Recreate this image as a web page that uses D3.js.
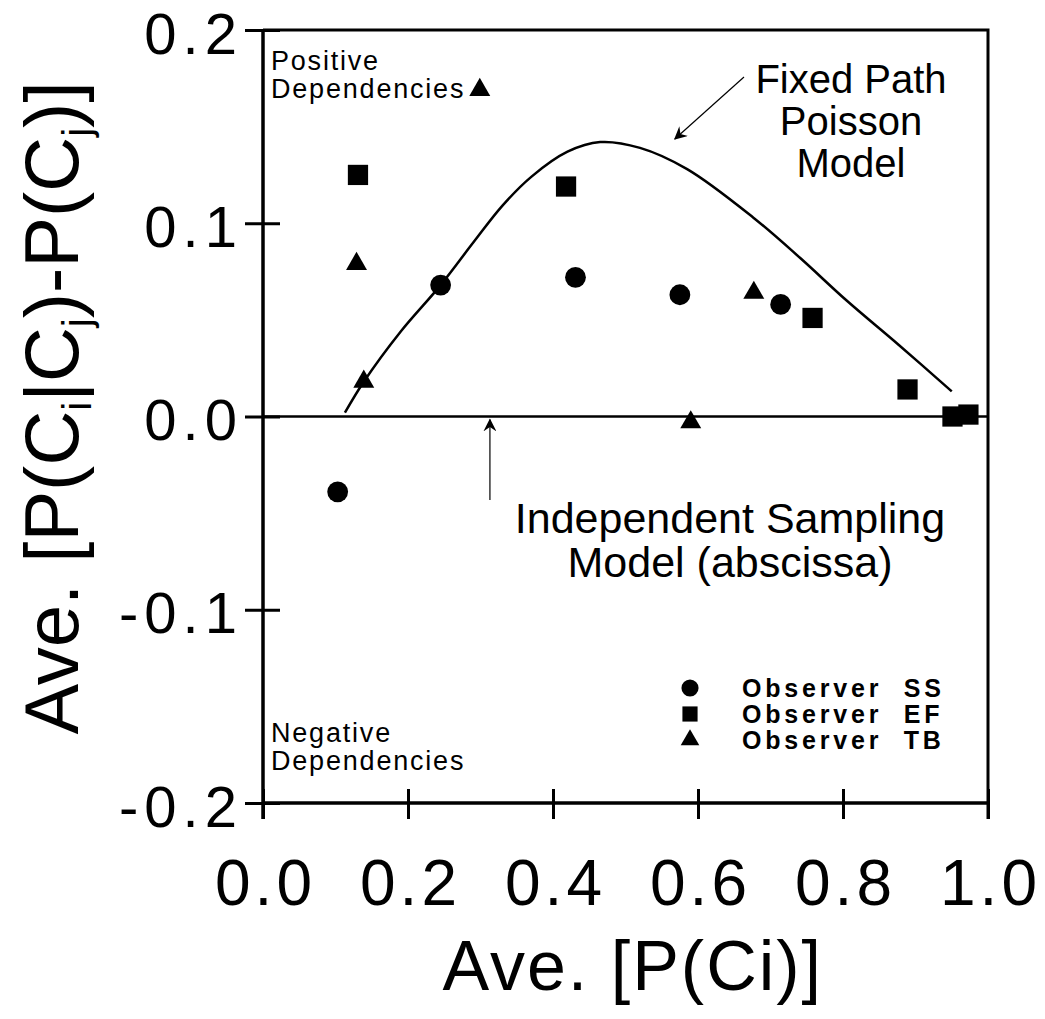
<!DOCTYPE html>
<html>
<head>
<meta charset="utf-8">
<script src="https://cdn.jsdelivr.net/npm/d3@7"></script>
<style>
  html, body { margin: 0; padding: 0; background: #fff; }
  svg { display: block; font-family: "Liberation Sans", Arial, Helvetica, sans-serif; }
</style>
</head>
<body>
<svg id="chart" width="1045" height="1019"></svg>
<script>
// Observed points: x = Ave. P(Ci), y = Ave. [P(Ci|Cj) - P(Cj)]
const ssX = [0.103, 0.245, 0.431, 0.575, 0.714];
const ssY = [-0.039, 0.068, 0.072, 0.063, 0.058];

const efX = [0.131, 0.418, 0.758, 0.889, 0.951, 0.973];
const efY = [0.125, 0.119, 0.051, 0.014, 0.000, 0.001];

const tbX = [0.129, 0.139, 0.299, 0.590, 0.677];
const tbY = [0.079, 0.018, 0.169, -0.003, 0.064];

// Fixed path Poisson model prediction
const modelX = [0.113, 0.139, 0.19, 0.245, 0.29, 0.33, 0.37, 0.42, 0.465, 0.52, 0.585, 0.676, 0.741, 0.805, 0.877, 0.95];
const modelY = [0.002, 0.018, 0.044, 0.068, 0.090, 0.109, 0.124, 0.137, 0.142, 0.139, 0.128, 0.103, 0.082, 0.060, 0.037, 0.013];

const xTicks = [0.0, 0.2, 0.4, 0.6, 0.8, 1.0];
const yTicks = [-0.2, -0.1, 0.0, 0.1, 0.2];

const legendLabels = ["Observer  SS", "Observer  EF", "Observer  TB"];

const svg = d3.select("#chart");
const x = d3.scaleLinear().domain([0, 1]).range([263, 988]);
const y = d3.scaleLinear().domain([-0.2, 0.2]).range([803, 30]);

const ink = "#000";
const fmt = d => d3.format(".1f")(d).replace("−", "-");

// Y axis
const yAxis = svg.append("g")
  .attr("transform", `translate(${x(0)},0)`)
  .call(d3.axisLeft(y).tickValues(yTicks).tickSize(0).tickFormat(fmt));
yAxis.select(".domain").remove();
yAxis.selectAll(".tick line").remove();
yAxis.selectAll(".tick text")
  .attr("x", -20).attr("dy", "0.4em")
  .attr("font-size", 58).attr("letter-spacing", 6).attr("fill", ink)
  .attr("font-family", "Liberation Sans, Arial, sans-serif");
yAxis.selectAll(".tick").append("line")
  .attr("x1", -18).attr("x2", 17).attr("stroke", ink).attr("stroke-width", 3);

// X axis
const xAxis = svg.append("g")
  .attr("transform", `translate(0,${y(-0.2)})`)
  .call(d3.axisBottom(x).tickValues(xTicks).tickSize(0).tickFormat(fmt));
xAxis.select(".domain").remove();
xAxis.selectAll(".tick line").remove();
xAxis.selectAll(".tick text")
  .attr("y", 102).attr("dy", 0).attr("dx", 2)
  .attr("font-size", 64).attr("letter-spacing", 4).attr("fill", ink)
  .attr("font-family", "Liberation Sans, Arial, sans-serif");
xAxis.selectAll(".tick").append("line")
  .attr("y1", -14).attr("y2", 16).attr("stroke", ink).attr("stroke-width", 3);

// Frame
svg.append("path")
  .attr("d", `M${x(0)},${y(0.2)} L${x(1)},${y(0.2)} L${x(1)},${y(-0.2) + 16}`)
  .attr("fill", "none").attr("stroke", ink).attr("stroke-width", 3);
svg.append("line")
  .attr("x1", x(0)).attr("x2", x(0)).attr("y1", y(0.2)).attr("y2", y(-0.2) + 16)
  .attr("stroke", ink).attr("stroke-width", 3.5);
svg.append("line")
  .attr("x1", x(0)).attr("x2", x(1)).attr("y1", y(-0.2)).attr("y2", y(-0.2))
  .attr("stroke", ink).attr("stroke-width", 3.5);

// Independent sampling model: the abscissa
svg.append("line")
  .attr("x1", x(0)).attr("x2", x(1)).attr("y1", y(0)).attr("y2", y(0))
  .attr("stroke", ink).attr("stroke-width", 2.5);

// Model curve
const curve = d3.line()
  .x((d, i) => x(modelX[i]))
  .y((d, i) => y(modelY[i]))
  .curve(d3.curveCatmullRom.alpha(0.5));
svg.append("path")
  .attr("d", curve(modelX))
  .attr("fill", "none").attr("stroke", ink).attr("stroke-width", 2.5);

// Markers
const sym = (type, size) => d3.symbol().type(type).size(size)();
svg.append("g").selectAll("path").data(ssX).join("path")
  .attr("d", sym(d3.symbolCircle, 340))
  .attr("transform", (d, i) => `translate(${x(d)},${y(ssY[i])})`)
  .attr("fill", ink);
svg.append("g").selectAll("path").data(efX).join("path")
  .attr("d", sym(d3.symbolSquare, 410))
  .attr("transform", (d, i) => `translate(${x(d)},${y(efY[i])})`)
  .attr("fill", ink);
svg.append("g").selectAll("path").data(tbX).join("path")
  .attr("d", sym(d3.symbolTriangle, 190))
  .attr("transform", (d, i) => `translate(${x(d)},${y(tbY[i])})`)
  .attr("fill", ink);

// Corner notes
const note = (lines, x0, y0) => {
  const t = svg.append("text").attr("x", x0).attr("y", y0)
    .attr("font-size", 27).attr("letter-spacing", 1.8).attr("fill", ink);
  lines.forEach((s, i) => t.append("tspan").attr("x", x0).attr("dy", i ? 28 : 0).text(s));
};
note(["Positive", "Dependencies"], 271, 70);
note(["Negative", "Dependencies"], 271, 742);

// Annotations with arrows
svg.append("defs").append("marker")
  .attr("id", "head").attr("viewBox", "0 0 12 12").attr("refX", 11).attr("refY", 6)
  .attr("markerWidth", 13).attr("markerHeight", 13).attr("markerUnits", "userSpaceOnUse")
  .attr("orient", "auto")
  .append("path").attr("d", "M0,0 L12,6 L0,12 L4,6 Z").attr("fill", ink);

const label = (lines, cx, y0, lh, fs) => {
  const t = svg.append("text").attr("x", cx).attr("y", y0)
    .attr("font-size", fs).attr("text-anchor", "middle").attr("fill", ink);
  lines.forEach((s, i) => t.append("tspan").attr("x", cx).attr("dy", i ? lh : 0).text(s));
};
label(["Fixed Path", "Poisson", "Model"], 851, 93, 42, 40);
svg.append("line")
  .attr("x1", 744).attr("y1", 77).attr("x2", x(0.568)).attr("y2", 139)
  .attr("stroke", ink).attr("stroke-width", 1.2).attr("marker-end", "url(#head)");

label(["Independent Sampling", "Model (abscissa)"], 730, 533, 44, 43);
svg.append("line")
  .attr("x1", x(0.313)).attr("y1", 500).attr("x2", x(0.313)).attr("y2", y(0) + 3)
  .attr("stroke", ink).attr("stroke-width", 1.2).attr("marker-end", "url(#head)");

// Legend
const legendTypes = [d3.symbolCircle, d3.symbolSquare, d3.symbolTriangle];
const legendSizes = [230, 230, 150];
const lg = svg.append("g");
legendLabels.forEach((s, i) => {
  const ly = 688 + i * 26;
  lg.append("path").attr("d", sym(legendTypes[i], legendSizes[i]))
    .attr("transform", `translate(690,${ly})`).attr("fill", ink);
  lg.append("text").attr("x", 742).attr("y", ly + 9)
    .attr("font-size", 25).attr("font-weight", "bold").attr("letter-spacing", 3.8)
    .attr("fill", ink).style("white-space", "pre").text(s);
});

// Axis titles
svg.append("text")
  .attr("x", x(0.51)).attr("y", 990)
  .attr("text-anchor", "middle").attr("font-size", 70).attr("letter-spacing", 2).attr("fill", ink)
  .text("Ave. [P(Ci)]");

const yt = svg.append("text")
  .attr("transform", "translate(78,408) rotate(-90)")
  .attr("text-anchor", "middle").attr("font-size", 76).attr("fill", ink);
const parts = [["Ave. [P(C", 0], ["i", 1], ["|C", 0], ["j", 1], [")-P(C", 0], ["j", 1], [")]", 0]];
parts.forEach(([s, sub]) => {
  yt.append("tspan")
    .attr("font-size", sub ? 40 : 76)
    .attr("dy", sub ? 13 : (s === "Ave. [P(C" ? 0 : -13))
    .text(s);
});
</script>
</body>
</html>
